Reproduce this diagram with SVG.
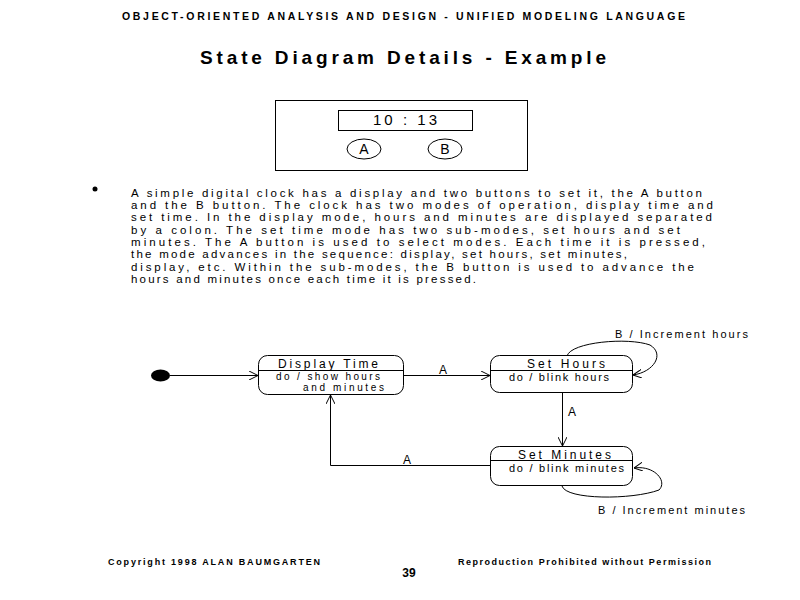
<svg xmlns="http://www.w3.org/2000/svg" width="800" height="600" viewBox="0 0 800 600">
<defs>
<style>
text{font-family:"Liberation Sans",Arial,sans-serif;fill:#000}
.hdr{font-size:10.5px;font-weight:bold}
.ttl{font-size:19px;font-weight:bold}
.body{font-size:11.5px}
.lbl{font-size:12px}
.sm{font-size:11px}
.xs{font-size:10px}
.ftr{font-size:9px;font-weight:bold}
.state{fill:#fff;stroke:#000;stroke-width:1}
.line{fill:none;stroke:#000;stroke-width:1}
</style>
<marker id="open" viewBox="0 0 10 10" refX="10" refY="5" markerWidth="9" markerHeight="9" markerUnits="userSpaceOnUse" orient="auto">
<path d="M0,0 L10,5 L0,10" fill="none" stroke="#000" stroke-width="1.1"/>
</marker>
</defs>
<rect width="800" height="600" fill="#fff"/>

<text class="hdr" x="122" y="20" textLength="563" lengthAdjust="spacing">OBJECT-ORIENTED ANALYSIS AND DESIGN - UNIFIED MODELING LANGUAGE</text>
<text class="ttl" x="200" y="64" textLength="406" lengthAdjust="spacing">State Diagram  Details - Example</text>

<g id="clock">
<rect x="275.5" y="100.5" width="252" height="70" class="line"/>
<rect x="338.5" y="110.5" width="134" height="20" class="line"/>
<text x="405" y="125" font-size="15" text-anchor="middle" textLength="64" lengthAdjust="spacing">10 : 13</text>
<ellipse cx="364" cy="149" rx="17" ry="10" class="line"/>
<text x="364" y="154" font-size="14" text-anchor="middle">A</text>
<ellipse cx="445" cy="149" rx="17" ry="10" class="line"/>
<text x="445" y="154" font-size="14" text-anchor="middle">B</text>
</g>

<g id="description">
<circle cx="95" cy="189" r="2.5" fill="#000"/>
<text class="body" x="131" y="197" textLength="571" lengthAdjust="spacing">A simple digital clock has a display and two buttons to set it, the A button</text>
<text class="body" x="131" y="209" textLength="582" lengthAdjust="spacing">and the B button.  The clock has two modes of operation, display time and</text>
<text class="body" x="131" y="221" textLength="581" lengthAdjust="spacing">set time.  In the display mode, hours and minutes are displayed separated</text>
<text class="body" x="131" y="234" textLength="549" lengthAdjust="spacing">by a colon.  The set time mode has two sub-modes, set hours and set</text>
<text class="body" x="131" y="246" textLength="574" lengthAdjust="spacing">minutes.  The A button is used to select modes.  Each time it is pressed,</text>
<text class="body" x="131" y="258" textLength="496" lengthAdjust="spacing">the mode advances in the sequence: display, set hours, set minutes,</text>
<text class="body" x="131" y="271" textLength="563" lengthAdjust="spacing">display, etc.  Within the sub-modes, the B button is used to advance the</text>
<text class="body" x="131" y="283" textLength="345" lengthAdjust="spacing">hours and minutes once each time it is pressed.</text>
</g>

<g id="connectors">
<line x1="170" y1="375.5" x2="258" y2="375.5" class="line" marker-end="url(#open)"/>
<line x1="404" y1="375.5" x2="490" y2="375.5" class="line" marker-end="url(#open)"/>
<text class="lbl" x="443" y="374" text-anchor="middle">A</text>
<line x1="562.5" y1="392" x2="562.5" y2="446" class="line" marker-end="url(#open)"/>
<text class="lbl" x="572" y="416" text-anchor="middle">A</text>
<polyline points="490,465.5 330.5,465.5 330.5,395" class="line" marker-end="url(#open)"/>
<text class="lbl" x="407" y="464" text-anchor="middle">A</text>
<path d="M567,356 C571,342 628,337 650,345 C665,354 654,372 633,375" class="line" marker-end="url(#open)"/>
<text class="sm" x="615" y="338" textLength="133" lengthAdjust="spacing">B / Increment hours</text>
<path d="M562,486 C566,500 632,500 659,490 C668,481 654,465 634,468" class="line" marker-end="url(#open)"/>
<text class="sm" x="598" y="514" textLength="147" lengthAdjust="spacing">B / Increment minutes</text>
</g>

<g id="initial">
<ellipse cx="160.5" cy="375.5" rx="9.5" ry="6" fill="#000"/>
</g>

<g id="display-time">
<rect x="258.5" y="355.5" width="145" height="39" rx="9" class="state"/>
<line x1="258.5" y1="370.5" x2="403.5" y2="370.5" class="line"/>
<text class="lbl" x="278" y="368" textLength="100" lengthAdjust="spacing">Display Time</text>
<text class="xs" x="276" y="380" textLength="104" lengthAdjust="spacing">do / show hours</text>
<text class="xs" x="303" y="391" textLength="81" lengthAdjust="spacing">and minutes</text>
</g>

<g id="set-hours">
<rect x="490.5" y="355.5" width="142" height="37" rx="9" class="state"/>
<line x1="490.5" y1="370.5" x2="632.5" y2="370.5" class="line"/>
<text class="lbl" x="527" y="368" textLength="78" lengthAdjust="spacing">Set Hours</text>
<text class="sm" x="509" y="381" textLength="100" lengthAdjust="spacing">do / blink hours</text>
</g>

<g id="set-minutes">
<rect x="490.5" y="446.5" width="142" height="39" rx="9" class="state"/>
<line x1="490.5" y1="460.5" x2="632.5" y2="460.5" class="line"/>
<text class="lbl" x="518" y="458.5" textLength="93" lengthAdjust="spacing">Set Minutes</text>
<text class="sm" x="509" y="472" textLength="115" lengthAdjust="spacing">do / blink minutes</text>
</g>

<text class="ftr" x="108" y="565" textLength="212" lengthAdjust="spacing">Copyright 1998  ALAN BAUMGARTEN</text>
<text class="ftr" x="458" y="565" textLength="253" lengthAdjust="spacing">Reproduction Prohibited without Permission</text>
<text x="409" y="577" font-size="12" font-weight="bold" text-anchor="middle">39</text>
</svg>
